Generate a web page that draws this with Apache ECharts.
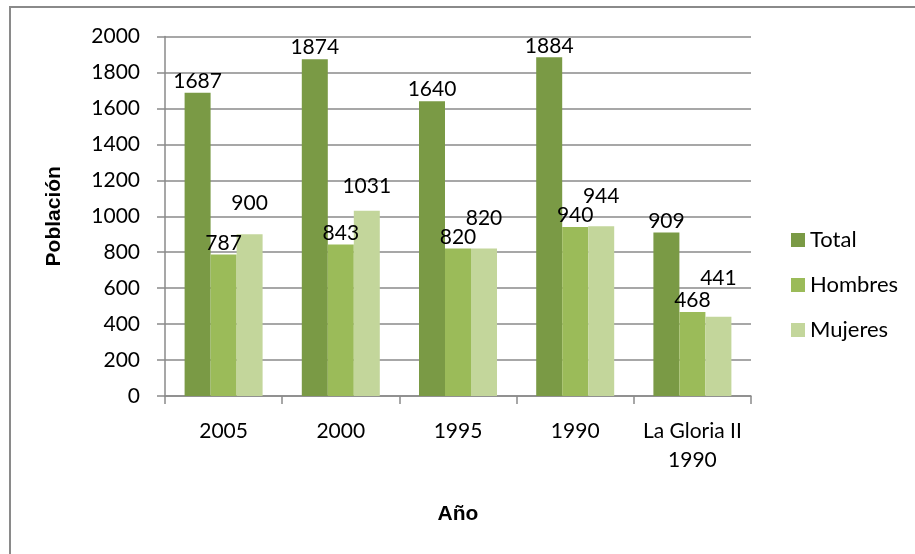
<!DOCTYPE html>
<html>
<head>
<meta charset="utf-8">
<script src="https://cdn.jsdelivr.net/npm/echarts@6/dist/echarts.min.js"></script>
<style>
html,body{margin:0;padding:0;background:#fff;}
#chart{width:915px;height:554px;}
</style>
</head>
<body>
<div id="chart"></div>
<script>
const categories = ['2005', '2000', '1995', '1990', 'La Gloria II\n1990'];
const seriesNames = ['Total', 'Hombres', 'Mujeres'];
const totalValues = [1687, 1874, 1640, 1884, 909];
const hombresValues = [787, 843, 820, 940, 468];
const mujeresValues = [900, 1031, 820, 944, 441];
const yAxisName = 'Población';
const xAxisName = 'Año';

// label placement tweaks (style only, not data)
const mujeresLabelLift = [-19, -13, -19, -19, -27];

const colors = ['#7a9a45', '#9bbb59', '#c3d69b'];
const baseFont = 'Lato, "Open Sans", sans-serif';
const nameFont = '"Liberation Sans Narrow", "Liberation Sans", Arial, sans-serif';

const chart = echarts.init(document.getElementById('chart'), null, {renderer: 'canvas'});

function barSeries(name, data, color, lifts) {
  return {
    name: name,
    type: 'bar',
    data: data.map(function (v, i) {
      return lifts ? {value: v, label: {offset: [0, lifts[i]]}} : v;
    }),
    barWidth: 26,
    barGap: '0%',
    itemStyle: {color: color},
    label: {
      show: true,
      position: 'top',
      distance: 1,
      color: '#000',
      fontFamily: baseFont,
      fontSize: 21
    }
  };
}

chart.setOption({
  animation: false,
  backgroundColor: '#fff',
  graphic: [{
    type: 'rect',
    shape: {x: 10, y: 7, width: 1000, height: 1000},
    style: {fill: 'none', stroke: '#8a8a8a', lineWidth: 2},
    silent: true
  }],
  grid: {left: 165, right: 164, top: 36.5, bottom: 158},
  legend: {
    orient: 'vertical',
    left: 786,
    top: 222,
    itemWidth: 14,
    itemHeight: 14,
    itemGap: 19,
    icon: 'rect',
    data: seriesNames,
    textStyle: {fontFamily: baseFont, fontSize: 22, color: '#000', lineHeight: 26}
  },
  xAxis: {
    type: 'category',
    data: categories,
    name: xAxisName,
    nameLocation: 'middle',
    nameGap: 108,
    nameTextStyle: {fontFamily: nameFont, fontWeight: 'bold', fontSize: 21, color: '#000'},
    axisLine: {lineStyle: {color: '#8a8a8a', width: 1.5}},
    axisTick: {show: true, length: 8, lineStyle: {color: '#8a8a8a', width: 1.5}},
    axisLabel: {interval: 0, fontFamily: baseFont, fontSize: 21, color: '#000', margin: 21, lineHeight: 29}
  },
  yAxis: {
    type: 'value',
    min: 0,
    max: 2000,
    interval: 200,
    name: yAxisName,
    nameLocation: 'middle',
    nameGap: 100,
    nameRotate: 90,
    nameTextStyle: {fontFamily: nameFont, fontWeight: 'bold', fontSize: 21, color: '#000'},
    axisLine: {show: true, lineStyle: {color: '#8a8a8a', width: 1.5}},
    axisTick: {show: true, length: 8, lineStyle: {color: '#8a8a8a', width: 1.5}},
    axisLabel: {fontFamily: baseFont, fontSize: 21, color: '#000', margin: 25, formatter: function (v) { return String(v); }},
    splitLine: {show: true, lineStyle: {color: '#8a8a8a', width: 1.5}}
  },
  series: [
    barSeries(seriesNames[0], totalValues, colors[0], null),
    barSeries(seriesNames[1], hombresValues, colors[1], null),
    barSeries(seriesNames[2], mujeresValues, colors[2], mujeresLabelLift)
  ]
});
</script>
</body>
</html>
